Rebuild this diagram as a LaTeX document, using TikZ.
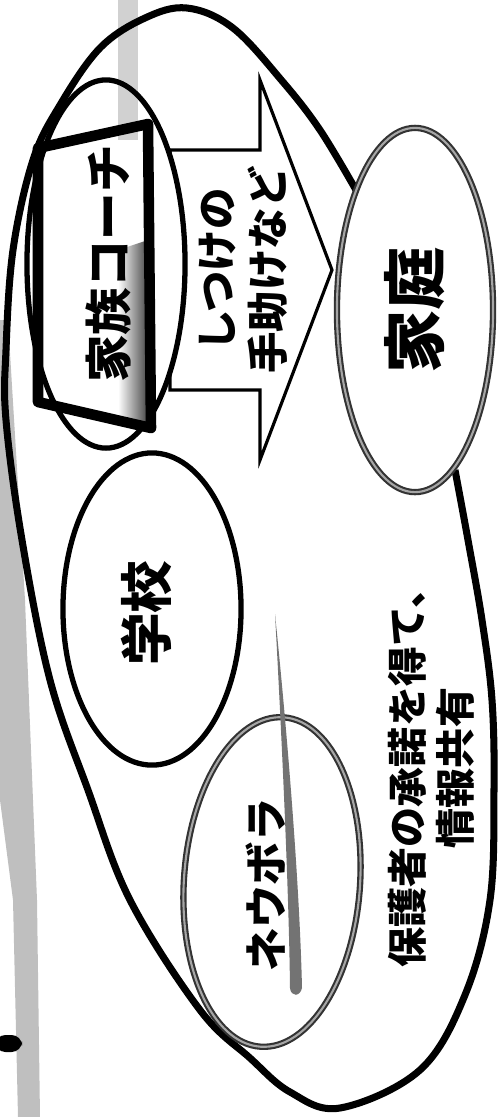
\documentclass[tikz,border=0pt]{standalone}
\usepackage{fontspec}
\newfontfamily\jpfont{Noto Sans CJK JP}
\usetikzlibrary{shapes.geometric}

\tikzset{
  ring/.style={draw, ellipse, line width=1.5pt, fill=white, inner sep=0pt},
  grayring/.style={ellipse, draw=black!80, double=black!35, double distance=0.6pt,
    line width=0.6pt, fill=white, inner sep=0pt},
  lbl/.style={rotate=90, align=center, inner sep=0pt},
}

\begin{document}
\begin{tikzpicture}[x=0.01cm, y=-0.01cm]
\useasboundingbox (0,0) rectangle (498,1117);
% page edge of the scan
\fill[black!25] (0,320) -- (8,320) -- (25,600) -- (37,900) -- (40,1117)
  -- (18,1117) -- (13,900) -- (0,800) -- cycle;
\fill[black, rounded corners=3pt] (-5,1035) rectangle (22,1052);
% large frame
\draw[line width=2pt] plot[smooth, tension=0.6] coordinates {
  (455,470) (468,540) (482,620) (492,700) (494,790) (490,900) (465,995)
  (420,1070) (340,1108) (290,1092) (250,1058) (200,1010) (130,900) (88,790)
  (50,680) (22,540) (6,420) (6,350) (13,250) (33,160) (60,105) (100,48)
  (145,18) (187,8) (233,28) (283,82) (320,130) (356,190)};
% block arrow
\draw[line width=0.9pt, fill=white] (170,150) -- (260,150) -- (260,80) -- (332,270)
  -- (260,460) -- (260,390) -- (170,390) -- cycle;
\node[ring, minimum width=1.58cm, minimum height=3.68cm] (kazoku) at (106,264) {};
\fill[black, opacity=0.18] (118,0) rectangle (138,140);
\shade[left color=white, right color=black!80] (118,250) -- (148,240) -- (151,428)
  -- (118,421) -- cycle;
\draw[line width=3pt, line join=round] (38,148) -- (148,124) -- (151,428)
  -- (38,402) -- cycle;
\node[lbl, font=\jpfont\bfseries\fontsize{13.5}{16}\selectfont] (coach) at (108,264) {家族コーチ};
\node[lbl, font=\jpfont\bfseries\fontsize{11.8}{14.5}\selectfont] (help) at (243,270)
  {しつけの\\手助けなど};
\node[grayring, minimum width=1.56cm, minimum height=3.64cm] (katei) at (415,310) {};
\node[lbl, font=\jpfont\bfseries\fontsize{18}{20}\selectfont] at (katei) {家庭};
\node[ring, minimum width=1.78cm, minimum height=3.12cm] (gakko) at (152,609) {};
\node[lbl, font=\jpfont\bfseries\fontsize{15}{18}\selectfont] at (146,613) {学校};
\node[grayring, rotate=-4, minimum width=1.76cm, minimum height=3.3cm] (neubora) at (272,882) {};
\node[lbl, font=\jpfont\bfseries\fontsize{12.3}{15}\selectfont] at (266,885) {ネウボラ};
% pencil streak
\fill[black!55] (275,614) .. controls (290,760) and (300,900) .. (302,988)
  .. controls (300,997) and (291,997) .. (290,988)
  .. controls (289,900) and (283,760) .. cycle;
\node[lbl, font=\jpfont\bfseries\fontsize{11.4}{13.7}\selectfont] (share) at (431,768)
  {保護者の承諾を得て、\\情報共有};
\end{tikzpicture}
\end{document}
